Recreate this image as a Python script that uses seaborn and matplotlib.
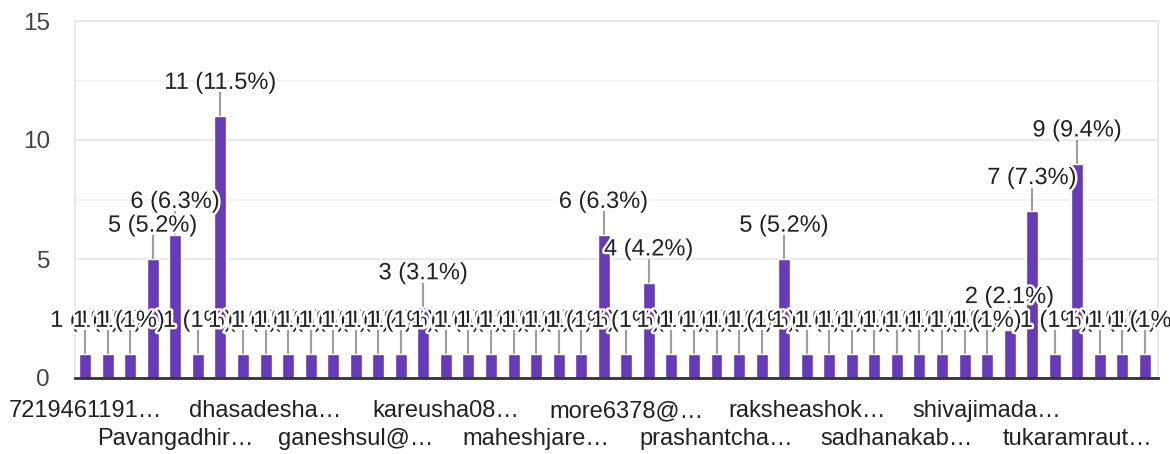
import matplotlib
matplotlib.use('Agg')
import matplotlib.pyplot as plt
import matplotlib.patheffects as pe
from matplotlib.patches import Rectangle
from matplotlib.ticker import MultipleLocator
from decimal import Decimal, ROUND_HALF_UP
import pandas as pd
import seaborn as sns

# responses per respondent (48 respondents)
counts = [1, 1, 1, 5, 6, 1, 11, 1, 1, 1, 1, 1, 1, 1, 1, 3,
          1, 1, 1, 1, 1, 1, 1, 6, 1, 4, 1, 1, 1, 1, 1, 5,
          1, 1, 1, 1, 1, 1, 1, 1, 1, 2, 7, 1, 9, 1, 1, 1]

# only every 4th respondent gets a visible (truncated) label
tick_labels = ["7219461191…", "Pavangadhir…", "dhasadesha…", "ganeshsul@…",
               "kareusha08…", "maheshjare…", "more6378@…", "prashantcha…",
               "raksheashok…", "sadhanakab…", "shivajimada…", "tukaramraut…"]

bar_color = "#673ab7"
text_color = "#222222"


def pct_label(v, total):
    p = Decimal(str(v / total * 100)).quantize(Decimal('0.1'), rounding=ROUND_HALF_UP)
    s = str(p)
    if s.endswith('.0'):
        s = s[:-2]
    return f"{v} ({s}%)"


sns.set_style('white')
plt.rcParams['font.family'] = ['Liberation Sans', 'DejaVu Sans']

df = pd.DataFrame({'pos': range(len(counts)), 'count': counts})
total = sum(counts)

fig = plt.figure(figsize=(11.7, 4.54), dpi=100)
ax = fig.add_axes([75 / 1170, 76 / 454, 1083 / 1170, 357 / 454])

sns.barplot(data=df, x='pos', y='count', color=bar_color, saturation=1,
            width=0.53, ax=ax, zorder=2)

ax.set_ylim(0, 15)
ax.set_xlim(-0.45, len(counts) - 0.42)
ax.yaxis.set_major_locator(MultipleLocator(5))
ax.yaxis.set_minor_locator(MultipleLocator(2.5))
ax.grid(axis='y', which='major', color='#e6e6e6', lw=1.2, zorder=0)
ax.grid(axis='y', which='minor', color='#f1f1f1', lw=1.2, zorder=0)
ax.set_axisbelow(True)

for side in ['left', 'right', 'top']:
    ax.spines[side].set_color('#e6e6e6')
    ax.spines[side].set_linewidth(1.2)
ax.spines['bottom'].set_color('#333333')
ax.spines['bottom'].set_linewidth(2)

ax.set_xlabel('')
ax.set_ylabel('')
ax.set_yticks([0, 5, 10, 15])
ax.tick_params(axis='y', which='both', length=0, pad=18, labelsize=17.5, labelcolor='#444444')

tick_pos = list(range(0, len(counts), 4))
ax.set_xticks(tick_pos)
ax.set_xticklabels([lbl if i % 2 == 0 else '\n' + lbl for i, lbl in enumerate(tick_labels)],
                   fontsize=17, color=text_color, linespacing=1.35)
ax.tick_params(axis='x', length=0, pad=16)

# labels may spill left of the plot but are cut at the right edge
clip = Rectangle((0, 0), 1160 / 1170, 1, transform=fig.transFigure, visible=False)
fig.add_artist(clip)

# value labels with leader lines, later ones drawn over earlier ones
for i, v in enumerate(counts):
    ax.vlines(i, v, v + 1.0, color='#9e9e9e', lw=1.5, zorder=1.5)
    t = ax.text(i, v + 1.4, pct_label(v, total), ha='center', va='center',
                fontsize=17, color=text_color, zorder=3,
                path_effects=[pe.withStroke(linewidth=3.5, foreground='white')])
    t.set_clip_path(clip)

fig.savefig('out.png', dpi=100)
